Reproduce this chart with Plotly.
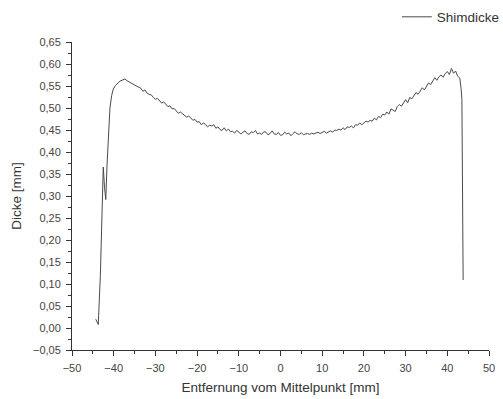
import plotly.graph_objects as go

# Distance from centre [mm]
x_mm = [
    -44.3, -43.7, -43.2, -42.8, -42.5, -42.2, -41.9, -41.6, -41.2, -40.9,
    -40.5, -40.1, -39.6, -39.0, -38.5, -38.0, -37.3, -36.8, -36.3,
    -36.0, -35.5, -35.0, -34.5, -34.0, -33.5, -33.0, -32.5, -32.0, -31.5,
    -31.0, -30.5, -30.0, -29.5, -29.0, -28.5, -28.0, -27.5, -27.0, -26.5,
    -26.0, -25.5, -25.0, -24.5, -24.0, -23.5, -23.0, -22.5, -22.0, -21.5,
    -21.0, -20.5, -20.0, -19.5, -19.0, -18.5, -18.0, -17.5, -17.0, -16.5,
    -16.0, -15.5, -15.0, -14.5, -14.0, -13.5, -13.0, -12.5, -12.0, -11.5,
    -11.0, -10.5, -10.0, -9.5, -9.0, -8.5, -8.0, -7.5, -7.0, -6.5,
    -6.0, -5.5, -5.0, -4.5, -4.0, -3.5, -3.0, -2.5, -2.0, -1.5,
    -1.0, -0.5, 0.0, 0.5, 1.0, 1.5, 2.0, 2.5, 3.0, 3.5,
    4.0, 4.5, 5.0, 5.5, 6.0, 6.5, 7.0, 7.5, 8.0, 8.5,
    9.0, 9.5, 10.0, 10.5, 11.0, 11.5, 12.0, 12.5, 13.0, 13.5,
    14.0, 14.5, 15.0, 15.5, 16.0, 16.5, 17.0, 17.5, 18.0, 18.5,
    19.0, 19.5, 20.0, 20.5, 21.0, 21.5, 22.0, 22.5, 23.0, 23.5,
    24.0, 24.5, 25.0, 25.5, 26.0, 26.5, 27.0, 27.5, 28.0, 28.5,
    29.0, 29.5, 30.0, 30.5, 31.0, 31.5, 32.0, 32.5, 33.0, 33.5,
    34.0, 34.5, 35.0, 35.5, 36.0, 36.5, 37.0, 37.5, 38.0, 38.5,
    39.0, 39.5, 40.0, 40.5, 41.0, 41.5, 42.0, 42.5, 43.0, 43.3,
    43.5, 43.8,
]

# Shim thickness [mm]
dicke_mm = [
    0.020, 0.008, 0.120, 0.270, 0.366, 0.320, 0.292, 0.370, 0.460, 0.500,
    0.528, 0.543, 0.551, 0.557, 0.561, 0.563, 0.566, 0.562, 0.559,
    0.558, 0.555, 0.553, 0.550, 0.547, 0.545, 0.538, 0.541, 0.534, 0.531,
    0.530, 0.524, 0.520, 0.522, 0.516, 0.511, 0.514, 0.507, 0.503, 0.505,
    0.498, 0.499, 0.494, 0.488, 0.491, 0.487, 0.481, 0.479, 0.482, 0.476,
    0.472, 0.474, 0.468, 0.469, 0.462, 0.466, 0.463, 0.457, 0.461, 0.459,
    0.462, 0.454, 0.457, 0.451, 0.449, 0.455, 0.448, 0.452, 0.446, 0.447,
    0.443, 0.449, 0.446, 0.441, 0.445, 0.448, 0.442, 0.440, 0.446, 0.444,
    0.449, 0.441, 0.443, 0.440, 0.446, 0.445, 0.439, 0.442, 0.448, 0.441,
    0.440, 0.444, 0.438, 0.439, 0.445, 0.441, 0.443, 0.437, 0.442, 0.446,
    0.441, 0.440, 0.444, 0.439, 0.441, 0.442, 0.440, 0.443, 0.441, 0.444,
    0.445, 0.442, 0.444, 0.447, 0.443, 0.446, 0.448, 0.445, 0.450, 0.449,
    0.452, 0.450, 0.455, 0.451, 0.457, 0.456, 0.459, 0.455, 0.462, 0.461,
    0.466, 0.462, 0.465, 0.470, 0.468, 0.472, 0.470, 0.477, 0.473, 0.481,
    0.478, 0.486, 0.484, 0.491, 0.486, 0.498, 0.495, 0.492, 0.503, 0.508,
    0.504, 0.513, 0.519, 0.512, 0.524, 0.521, 0.529, 0.535, 0.531, 0.540,
    0.546, 0.541, 0.550, 0.557, 0.553, 0.562, 0.569, 0.563, 0.571, 0.575,
    0.570, 0.578, 0.583, 0.576, 0.590, 0.579, 0.584, 0.572, 0.568, 0.545,
    0.520, 0.109,
]

x_ticks = [-50, -40, -30, -20, -10, 0, 10, 20, 30, 40, 50]
y_ticks = [-0.05, 0.00, 0.05, 0.10, 0.15, 0.20, 0.25, 0.30, 0.35, 0.40,
           0.45, 0.50, 0.55, 0.60, 0.65]

font_family = "Liberation Sans, Arial, sans-serif"
axis_col = "#333333"

fig = go.Figure()
fig.add_trace(go.Scatter(
    x=x_mm, y=dicke_mm, mode="lines", name="Shimdicke",
    line=dict(color="#4a4a4a", width=1),
))

fig.update_layout(
    width=503, height=399,
    margin=dict(l=72, r=14, t=42, b=49, autoexpand=False),
    paper_bgcolor="white", plot_bgcolor="white",
    separators=", ",
    font=dict(family=font_family, color=axis_col, size=11),
    showlegend=True,
    legend=dict(
        x=1.038, y=1.081, xanchor="right", yanchor="middle",
        bgcolor="rgba(0,0,0,0)", font=dict(size=13.5, color="#333333"),
    ),
)

fig.update_xaxes(
    range=[-50, 50], tickvals=x_ticks, tickformat="d",
    showgrid=False, zeroline=False, automargin=False,
    showline=True, linecolor=axis_col, linewidth=1,
    ticks="outside", ticklen=5, tickcolor=axis_col, ticklabelstandoff=3,
    minor=dict(dtick=5, ticks="outside", ticklen=3, tickcolor=axis_col, showgrid=False),
    tickfont=dict(size=11, color="#444444"),
    title=dict(text="Entfernung vom Mittelpunkt [mm]", font=dict(size=13.5, color="#333333"), standoff=9),
)
fig.update_yaxes(
    range=[-0.05, 0.65], tickvals=y_ticks, tickformat=".2f",
    showgrid=False, zeroline=False, automargin=False,
    showline=True, linecolor=axis_col, linewidth=1,
    ticks="outside", ticklen=5, tickcolor=axis_col, ticklabelstandoff=3,
    minor=dict(dtick=0.025, tick0=0, ticks="outside", ticklen=3, tickcolor=axis_col, showgrid=False),
    tickfont=dict(size=11, color="#444444"),
    title=dict(text="Dicke [mm]", font=dict(size=13.5, color="#333333"), standoff=8),
)

fig.write_html("out.html", config={"displayModeBar": False},
               post_script="document.body.style.margin='0';")
